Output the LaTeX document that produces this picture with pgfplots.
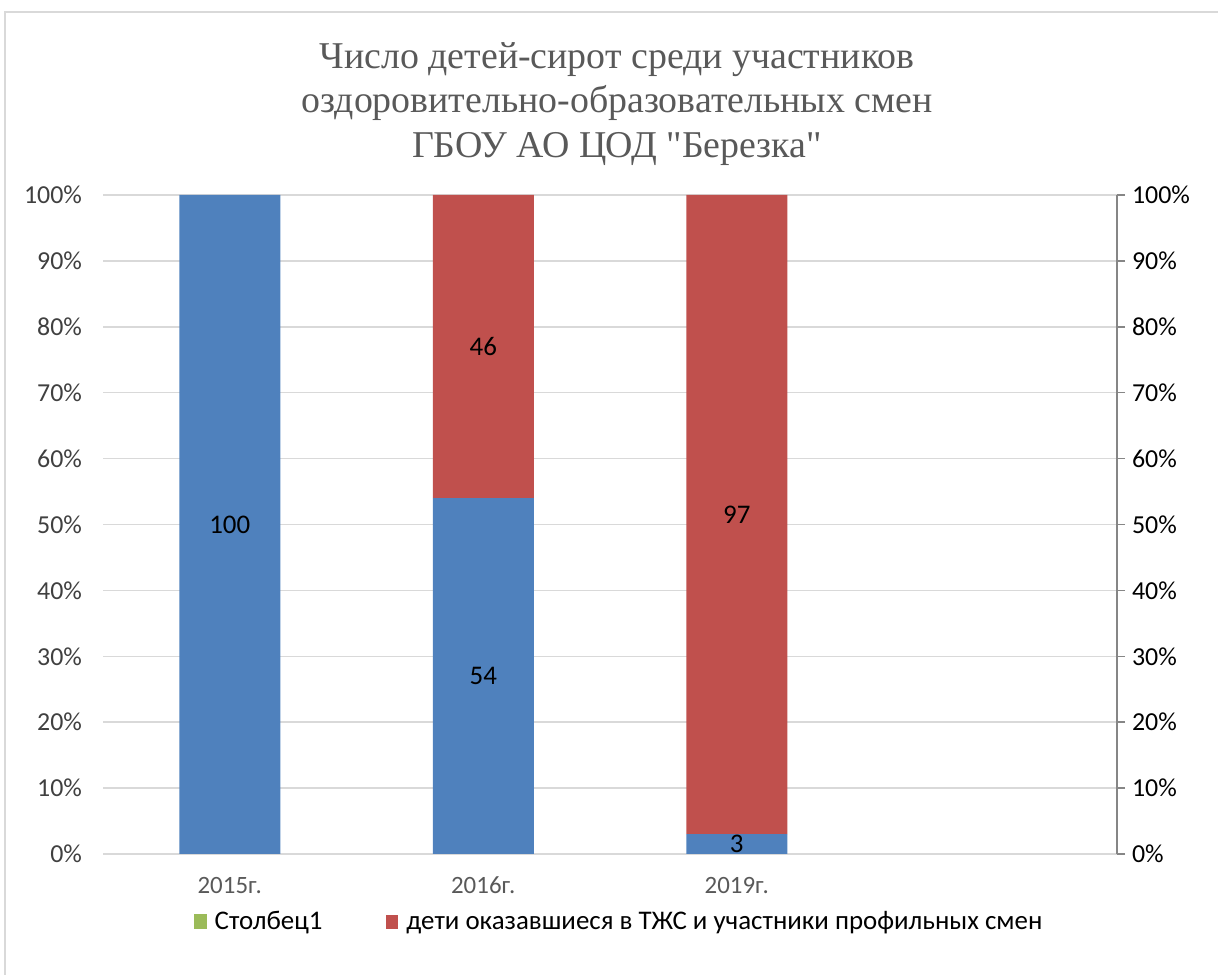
\documentclass[border=0pt]{standalone}
\usepackage{pgfplots}
\pgfplotsset{compat=1.18}
\usepackage{fontspec}
\setmainfont{Carlito}
\newfontfamily\titlefont{Liberation Serif}
\definecolor{colblue}{HTML}{4F81BD}
\definecolor{colred}{HTML}{C0504D}
\definecolor{colgreen}{HTML}{9BBB59}
\definecolor{gridgray}{HTML}{D9D9D9}
\definecolor{axisgray}{HTML}{868686}
\definecolor{labelgray}{HTML}{595959}
\definecolor{ticklab}{HTML}{404040}

\begin{document}
\begin{tikzpicture}
\useasboundingbox (0bp,0bp) rectangle (609bp,487.5bp);
\draw[gridgray, line width=0.75bp] (2.5bp,0bp) -- (2.5bp,481.5bp) -- (609bp,481.5bp);
\node[font=\titlefont\fontsize{19}{22.5}\selectfont, text=labelgray, align=center] at (308.5bp,435.5bp)
  {Число детей-сирот среди участников\\оздоровительно-образовательных смен\\ГБОУ АО ЦОД "Березка"};

\begin{axis}[
  at={(51.5bp,60.5bp)}, anchor=south west,
  scale only axis, width=507bp, height=329.5bp,
  /pgf/number format/assume math mode=true,
  ybar stacked, bar width=50.5bp,
  xmin=-0.5, xmax=3.5, ymin=0, ymax=100,
  xtick={0,1,2}, xticklabels={2015г.,2016г.,2019г.},
  ytick={0,10,...,100},
  yticklabel={\pgfmathprintnumber{\tick}\%},
  ymajorgrids, grid style={gridgray, line width=0.75bp},
  axis lines*=left,
  y axis line style={draw=none},
  x axis line style={gridgray, line width=0.75bp},
  major tick length=0pt,
  tick style={draw=none},
  typeset ticklabels with strut,
  yticklabel style={font=\fontsize{13}{15}\selectfont, text=ticklab, xshift=-7bp},
  xticklabel style={font=\fontsize{12.5}{15}\selectfont, text=labelgray, yshift=-6bp},
  legend style={at={(0.51,-0.103)}, anchor=center, draw=none, fill=none,
    legend columns=2, font=\fontsize{13.5}{16}\selectfont,
    /tikz/every even column/.append style={column sep=30bp}},
]
\addlegendimage{legend image code/.code={\fill[colgreen] (0bp,-3.5bp) rectangle (6bp,3.5bp); \path (0bp,0bp) (8bp,0bp);}}
\addlegendentry{Столбец1}
\addplot[fill=colblue, draw=none, forget plot] coordinates {(0,100) (1,54) (2,3)};
\addplot[fill=colred, draw=none,
  legend image code/.code={\fill[colred] (0bp,-3.5bp) rectangle (6bp,3.5bp); \path (0bp,0bp) (8bp,0bp);}]
  coordinates {(0,0) (1,46) (2,97)};
\addlegendentry{дети оказавшиеся в ТЖС и участники профильных смен}
\end{axis}

\begin{axis}[
  at={(51.5bp,60.5bp)}, anchor=south west,
  scale only axis, width=507bp, height=329.5bp,
  /pgf/number format/assume math mode=true,
  xmin=-0.5, xmax=3.5, ymin=0, ymax=100,
  axis x line=none,
  axis y line*=right,
  y axis line style={axisgray, line width=0.75bp},
  ytick={0,10,...,100},
  yticklabel={\pgfmathprintnumber{\tick}\%},
  tick align=outside, major tick length=4bp,
  ytick style={axisgray, line width=0.75bp},
  yticklabel style={font=\fontsize{13}{15}\selectfont, text=black},
]
\addplot[draw=none, mark=none, nodes near coords, point meta=explicit symbolic,
  nodes near coords style={anchor=center, font=\fontsize{13.5}{16}\selectfont, text=black}]
  coordinates {(0,50)[100] (1,27)[54] (1,77)[46] (2,1.5)[3] (2,51.5)[97]};
\end{axis}
\end{tikzpicture}
\end{document}
